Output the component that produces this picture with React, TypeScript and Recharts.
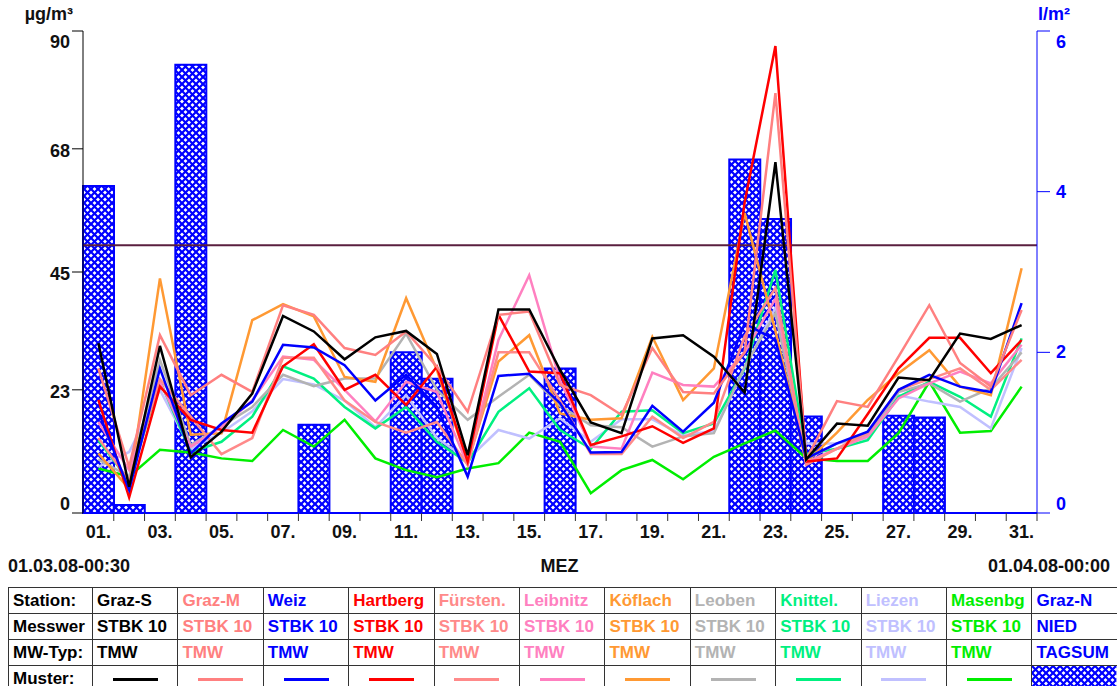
import {
  ComposedChart,
  Bar,
  Line,
  XAxis,
  YAxis,
  ReferenceLine,
} from "recharts";

const days = Array.from({ length: 31 }, (_, i) => i + 1);

// daily means (TMW), µg/m³
const grazS = [31.7, 4.9, 31.2, 10.4, 15.2, 22.3, 36.8, 33.9, 28.7, 32.8, 34.0, 29.7, 10.8, 38.0, 38.0, 26.7, 16.9, 14.9, 32.6, 33.2, 29.2, 22.5, 65.5, 10.0, 16.7, 16.3, 25.3, 24.8, 33.5, 32.5, 35.1];
const grazM = [27.0, 8.6, 33.2, 22.0, 25.8, 22.6, 38.8, 37.0, 30.8, 29.5, 33.9, 27.3, 18.9, 37.0, 37.6, 23.9, 22.0, 18.3, 30.8, 22.6, 22.3, 30.0, 78.4, 10.0, 20.9, 19.8, 29.2, 38.8, 28.0, 23.6, 37.9];
const weiz = [18.9, 4.3, 27.0, 11.1, 16.7, 20.8, 31.4, 30.9, 27.6, 21.0, 25.8, 19.8, 6.8, 25.6, 26.0, 20.5, 11.3, 11.4, 20.0, 15.2, 20.6, 35.4, 32.3, 10.2, 13.0, 15.2, 23.0, 25.8, 23.6, 22.6, 39.2];
const hartberg = [21.1, 2.9, 23.6, 17.4, 15.5, 15.0, 27.4, 31.5, 23.0, 25.8, 20.2, 27.3, 9.6, 37.0, 26.4, 26.1, 12.7, 14.3, 16.2, 13.1, 15.8, 58.0, 87.2, 9.6, 10.2, 18.5, 27.0, 32.7, 32.7, 26.1, 32.3];
const fuersten = [14.0, 6.0, 25.0, 18.0, 11.0, 14.0, 29.0, 29.0, 21.0, 17.0, 15.0, 17.0, 9.0, 30.0, 30.0, 21.0, 11.0, 11.0, 18.0, 14.0, 17.0, 33.0, 42.0, 9.0, 12.0, 15.0, 23.0, 25.0, 27.0, 23.0, 28.6];
const leibnitz = [17.0, 8.0, 24.5, 12.4, 16.0, 21.0, 29.2, 28.6, 23.0, 17.1, 24.5, 22.6, 9.0, 32.3, 44.4, 24.8, 12.4, 12.0, 26.2, 23.9, 23.6, 30.0, 40.0, 9.5, 12.0, 14.3, 21.4, 24.2, 26.4, 24.2, 31.4];
const koeflach = [11.1, 4.5, 43.8, 14.6, 14.9, 36.0, 39.0, 36.7, 25.4, 24.5, 40.1, 26.7, 9.4, 28.3, 33.2, 18.6, 17.4, 17.7, 32.9, 21.1, 27.0, 56.0, 34.0, 9.5, 15.0, 21.1, 26.1, 30.4, 23.6, 22.0, 45.7];
const leoben = [10.0, 6.8, 28.6, 12.7, 16.2, 19.8, 25.8, 23.7, 25.1, 25.1, 33.5, 23.0, 17.4, 21.7, 25.8, 20.0, 16.4, 16.0, 12.4, 14.3, 14.9, 27.3, 37.3, 10.0, 13.0, 14.6, 22.6, 24.2, 20.8, 23.3, 30.0];
const knittel = [13.6, 6.0, 24.7, 11.4, 13.3, 18.0, 27.4, 25.1, 19.8, 15.8, 19.8, 13.3, 9.4, 18.9, 23.3, 15.5, 12.0, 18.9, 19.2, 14.9, 16.7, 27.0, 45.4, 11.0, 12.0, 13.6, 21.7, 24.5, 21.7, 18.0, 32.6];
const liezen = [8.6, 11.4, 23.0, 12.0, 15.0, 19.0, 25.0, 24.0, 21.0, 16.0, 22.0, 14.0, 10.0, 15.5, 13.9, 17.7, 13.3, 17.5, 17.5, 14.5, 15.3, 27.0, 38.3, 13.0, 13.0, 14.0, 22.0, 20.8, 19.8, 15.8, 30.8];
const masenbg = [8.3, 6.8, 11.8, 11.3, 10.2, 9.7, 15.5, 12.4, 17.4, 10.2, 8.0, 6.7, 8.3, 9.3, 15.0, 13.3, 3.7, 8.0, 9.9, 6.3, 10.5, 13.0, 15.4, 10.2, 9.7, 9.7, 14.9, 24.5, 15.0, 15.3, 23.6];
// daily precipitation sum Graz-N, l/m²
const grazN = [4.07, 0.1, 0, 5.58, 0, 0, 0, 1.1, 0, 0, 2.0, 1.67, 0, 0, 0, 1.8, 0, 0, 0, 0, 0, 4.4, 3.66, 1.2, 0, 0, 1.21, 1.19, 0, 0, 0];

const leftTicks = [0, 23, 45, 68, 90];
const rightTicks = [0, 2, 4, 6];
const limitValue = 50;

const stations = [
  { key: "grazS", name: "Graz-S", color: "#000000", values: grazS },
  { key: "grazM", name: "Graz-M", color: "#ff8080", values: grazM },
  { key: "weiz", name: "Weiz", color: "#0000ff", values: weiz },
  { key: "hartberg", name: "Hartberg", color: "#ff0000", values: hartberg },
  { key: "fuersten", name: "Fürsten.", color: "#ff8a8a", values: fuersten },
  { key: "leibnitz", name: "Leibnitz", color: "#ff80c0", values: leibnitz },
  { key: "koeflach", name: "Köflach", color: "#ff9933", values: koeflach },
  { key: "leoben", name: "Leoben", color: "#b3b3b3", values: leoben },
  { key: "knittel", name: "Knittel.", color: "#00f080", values: knittel },
  { key: "liezen", name: "Liezen", color: "#c0c0ff", values: liezen },
  { key: "masenbg", name: "Masenbg", color: "#00ee00", values: masenbg },
];

const data = days.map((d, i) => {
  const row: any = { day: d, grazN: grazN[i] };
  stations.forEach((s) => (row[s.key] = s.values[i]));
  return row;
});

const FONT = "'Liberation Sans', Arial, Helvetica, sans-serif";
const W = 1117;
const H = 586;
const M = { top: 31, right: 20, bottom: 43, left: 23 };
const PLOT_L = 83;
const PLOT_R = 1037;
const BAND = (PLOT_R - PLOT_L) / days.length;
const BLUE = "#0000ff";

const textStyle = { fontFamily: FONT, fontSize: 18, fontWeight: 700 };

function LeftTick({ x, y, payload }: any) {
  const v = payload.value;
  const dy = v === 90 ? 11 : v === 0 ? -9 : 2;
  return (
    <text x={x} y={y + dy} textAnchor="end" dominantBaseline="central" fill="#111" style={textStyle}>
      {v}
    </text>
  );
}

function RightTick({ x, y, payload }: any) {
  const v = payload.value;
  const dy = v === 6 ? 11 : v === 0 ? -9 : 0;
  return (
    <text x={x + 4} y={y + dy} textAnchor="start" dominantBaseline="central" fill={BLUE} style={textStyle}>
      {v}
    </text>
  );
}

function DayTick({ x, y, payload }: any) {
  const d = payload.value;
  return (
    <g>
      <line x1={x + BAND / 2} x2={x + BAND / 2} y1={y - 8} y2={y} stroke="#333" strokeWidth={1} />
      {d % 2 === 1 && (
        <text x={x} y={y + 11} textAnchor="middle" dominantBaseline="central" fill="#111" style={textStyle}>
          {String(d).padStart(2, "0") + "."}
        </text>
      )}
    </g>
  );
}

// blue crosshatch with white diamonds
function Hatch({ id }: { id: string }) {
  return (
    <pattern id={id} width="7" height="7" patternUnits="userSpaceOnUse">
      <rect width="7" height="7" fill="#fff" />
      <path d="M0,0 L7,7 M7,0 L0,7" stroke={BLUE} strokeWidth={2.2} />
      <path d="M-1,6 L1,8 M6,-1 L8,1 M-1,1 L1,-1 M6,8 L8,6" stroke={BLUE} strokeWidth={2.2} />
    </pattern>
  );
}

const cellBase: any = {
  border: "1px solid #333",
  padding: "0 4px",
  whiteSpace: "nowrap",
  overflow: "hidden",
  height: 25,
  lineHeight: "25px",
  fontSize: 17,
  fontWeight: 700,
  fontFamily: FONT,
};

function LegendTable() {
  const firstW = 84;
  const colW = (W - 8 - firstW) / 12;
  return (
    <table
      style={{
        position: "absolute",
        left: 8,
        top: 587,
        width: W - 8,
        borderCollapse: "collapse",
        tableLayout: "fixed",
      }}
    >
      <colgroup>
        <col style={{ width: firstW }} />
        {stations.map((s) => (
          <col key={s.key} style={{ width: colW }} />
        ))}
        <col style={{ width: colW }} />
      </colgroup>
      <tbody>
        <tr>
          <td style={cellBase}>Station:</td>
          {stations.map((s) => (
            <td key={s.key} style={{ ...cellBase, color: s.color }}>{s.name}</td>
          ))}
          <td style={{ ...cellBase, color: BLUE }}>Graz-N</td>
        </tr>
        <tr>
          <td style={cellBase}>Messwer</td>
          {stations.map((s) => (
            <td key={s.key} style={{ ...cellBase, color: s.color }}>STBK 10</td>
          ))}
          <td style={{ ...cellBase, color: BLUE }}>NIED</td>
        </tr>
        <tr>
          <td style={cellBase}>MW-Typ:</td>
          {stations.map((s) => (
            <td key={s.key} style={{ ...cellBase, color: s.color }}>TMW</td>
          ))}
          <td style={{ ...cellBase, color: BLUE }}>TAGSUM</td>
        </tr>
        <tr>
          <td style={cellBase}>Muster:</td>
          {stations.map((s) => (
            <td key={s.key} style={{ ...cellBase, textAlign: "center" }}>
              <span style={{ display: "inline-block", width: 45, height: 3, background: s.color, verticalAlign: "middle" }} />
            </td>
          ))}
          <td style={{ ...cellBase, padding: 0 }}>
            <svg width="100%" height="25" style={{ display: "block" }}>
              <defs>
                <Hatch id="hatchLegend" />
              </defs>
              <rect x="0" y="0" width="100%" height="25" fill="url(#hatchLegend)" />
            </svg>
          </td>
        </tr>
      </tbody>
    </table>
  );
}

export default function App() {
  return (
    <div style={{ position: "absolute", left: 0, top: 0, width: W, height: 686, background: "#fff", overflow: "hidden" }}>
      <div style={{ position: "absolute", right: W - 73, top: 4, ...textStyle, color: "#111", lineHeight: "20px" }}>
        µg/m³
      </div>
      <div style={{ position: "absolute", left: 1038, top: 4, ...textStyle, color: BLUE, lineHeight: "20px" }}>
        l/m²
      </div>
      <ComposedChart width={W} height={H} data={data} margin={M} barCategoryGap={0} barGap={0}>
        <defs>
          <Hatch id="hatchBar" />
        </defs>
        <XAxis
          dataKey="day"
          type="category"
          interval={0}
          height={30}
          axisLine={{ stroke: BLUE, strokeWidth: 2 }}
          tickLine={false}
          tickSize={8}
          tickMargin={0}
          tick={<DayTick />}
        />
        <YAxis
          yAxisId="left"
          domain={[0, 90]}
          ticks={leftTicks}
          width={60}
          axisLine={{ stroke: "#000" }}
          tickLine={{ stroke: "#000" }}
          tickSize={11}
          tickMargin={2}
          tick={<LeftTick />}
          allowDataOverflow
        />
        <YAxis
          yAxisId="right"
          orientation="right"
          domain={[0, 6]}
          ticks={rightTicks}
          width={60}
          axisLine={{ stroke: BLUE }}
          tickLine={{ stroke: BLUE }}
          tickSize={13}
          tickMargin={2}
          tick={<RightTick />}
        />
        <Bar
          yAxisId="right"
          dataKey="grazN"
          fill="url(#hatchBar)"
          stroke={BLUE}
          strokeWidth={2}
          isAnimationActive={false}
        />
        <ReferenceLine yAxisId="left" y={limitValue} stroke="#5a1f3f" strokeWidth={2} />
        {[...stations].reverse().map((s) => (
          <Line
            key={s.key}
            yAxisId="left"
            type="linear"
            dataKey={s.key}
            stroke={s.color}
            strokeWidth={2.5}
            dot={false}
            activeDot={false}
            isAnimationActive={false}
          />
        ))}
      </ComposedChart>
      <div style={{ position: "absolute", left: 8, top: 556, ...textStyle, color: "#111", lineHeight: "20px" }}>
        01.03.08-00:30
      </div>
      <div style={{ position: "absolute", left: 0, width: W + 2, top: 556, textAlign: "center", ...textStyle, color: "#111", lineHeight: "20px" }}>
        MEZ
      </div>
      <div style={{ position: "absolute", right: 7, top: 556, ...textStyle, color: "#111", lineHeight: "20px" }}>
        01.04.08-00:00
      </div>
      <LegendTable />
    </div>
  );
}
